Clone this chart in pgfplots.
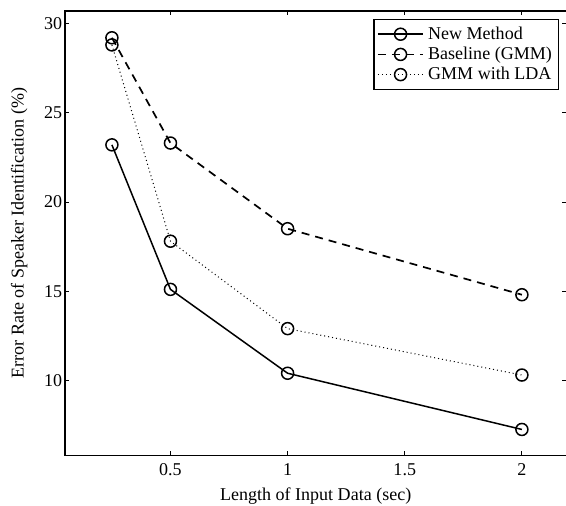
\documentclass[border=0pt]{standalone}
\usepackage{pgfplots}
\pgfplotsset{compat=1.18}
\usepackage{fontspec}
\setmainfont{Liberation Serif}
\begin{document}
\fontsize{9}{11}\selectfont
\begin{tikzpicture}
\useasboundingbox (-32.5pt,-25pt) rectangle (250.3pt,227.5pt);
\begin{axis}[
  at={(0,0)}, anchor=south west,
  scale only axis,
  width=250.5pt, height=222pt,
  xmin=0.05, xmax=2.19,
  ymin=5.8, ymax=30.7,
  xtick={0.5,1,1.5,2},
  xticklabels={0.5,1,1.5,2},
  ytick={10,15,20,25,30},
  yticklabels={10,15,20,25,30},
  tick align=inside,
  major tick length=2pt,
  axis line style={line width=0.6pt},
  tick style={line width=0.4pt, black},
  xticklabel style={yshift=-1pt},
  yticklabel style={xshift=1.8pt},
  xlabel={Length of Input Data (sec)},
  ylabel={Error Rate of Speaker Identification (\%)},
  xlabel style={at={(axis description cs:0.5,-0.072)}, anchor=north, inner sep=0pt},
  ylabel style={at={(axis description cs:-0.074,0.5)}, anchor=south, rotate=0, inner sep=0pt},
  legend style={at={(0.986,0.982)}, anchor=north east, draw=black, line width=0.6pt,
    font=\fontsize{9}{11}\selectfont, row sep=-1.5pt, inner sep=1.5pt,
    legend cell align=left},
  legend image code/.code={
    \draw[#1, mark repeat=2, mark phase=2] plot coordinates {(0cm,0cm) (0.4cm,0cm) (0.8cm,0cm)};
  },
  every axis plot/.append style={line width=0.75pt, black, mark=o, mark size=3pt,
    mark options={solid, line width=0.75pt}},
]
\addplot[solid] coordinates {(0.25,23.2) (0.5,15.1) (1,10.4) (2,7.25)};
\addplot[dash pattern=on 4pt off 3pt, line width=0.85pt] coordinates {(0.25,29.2) (0.5,23.3) (1,18.5) (2,14.8)};
\addplot[dash pattern=on 0.5pt off 1.5pt, line width=0.5pt] coordinates {(0.25,28.8) (0.5,17.8) (1,12.9) (2,10.3)};
\legend{New Method, Baseline (GMM), GMM with LDA}
\end{axis}
\end{tikzpicture}
\end{document}
